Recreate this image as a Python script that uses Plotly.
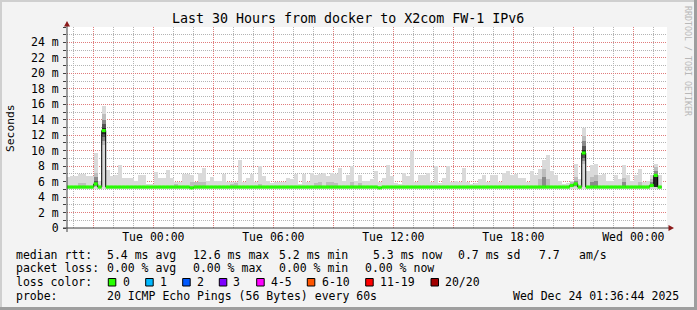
import plotly.graph_objects as go

# ---------------- data ----------------
# time axis: hours relative to Tue 00:00, bins of 12 minutes
bin_hours = 0.2
first_bin_start = -4.3817

# upper edge of the light smoke per bin (ms)
smoke_max = [
    6.6, 6.7, 6.7, 7.0, 7.0, 6.7, 6.7, 9.7, 6.1, 15.8,
    7.5, 6.7, 6.9, 8.1, 6.5, 6.5, 6.5, 6.1, 6.9, 6.9,
    5.7, 5.7, 7.3, 6.5, 6.5, 7.5, 6.5, 5.95, 5.95, 7.0,
    7.0, 6.8, 5.95, 7.1, 7.7, 6.1, 6.6,
    6.1, 6.1, 7.0, 5.95, 6.0, 5.9, 8.85, 5.95, 6.5, 7.0,
    5.95, 8.07, 6.7, 6.1, 5.8, 5.9, 5.9, 5.9, 6.5, 6.3,
    7.0, 5.7, 7.0, 5.95, 7.1, 6.9, 7.0, 7.1, 6.7, 7.1,
    7.0, 7.7, 6.1, 6.8, 8.07, 6.1, 6.8, 6.1,
    6.1, 6.35, 7.4, 5.95, 6.5, 8.2, 6.7, 5.8, 5.7, 7.1,
    6.7, 10.0, 5.95, 6.8, 6.8, 7.1, 5.95, 8.07, 5.8, 6.5,
    8.07, 5.95, 6.1, 5.95, 7.8, 5.95, 5.7, 5.8, 6.3, 6.8,
    5.95, 6.8, 6.8, 5.95, 7.1, 7.4, 6.8, 7.0,
    6.5, 6.5, 5.95, 7.4, 6.8, 7.6, 8.85, 9.5, 7.4, 6.8,
    6.1, 5.7, 5.8, 6.1, 8.3, 6.3, 12.9, 7.4, 8.2, 8.3,
    6.8, 7.0, 6.1, 6.1, 6.8, 6.3, 8.2, 6.9, 6.1, 6.8,
    7.6, 5.95, 6.1, 6.8, 8.3, 6.8,
]
smoke_min = 5.1

# median rtt per bin (ms)
median_rtt = [
    5.3, 5.3, 5.3, 5.3, 5.3, 5.3, 5.3, 5.7, 5.3, 12.6,
    5.3, 5.3, 5.3, 5.3, 5.3, 5.3, 5.3, 5.3, 5.3, 5.3,
    5.3, 5.3, 5.3, 5.3, 5.3, 5.3, 5.3, 5.3, 5.3, 5.3,
    5.3, 5.2, 5.3, 5.3, 5.3, 5.3, 5.3,
    5.3, 5.3, 5.3, 5.3, 5.3, 5.3, 5.3, 5.3, 5.3, 5.3,
    5.3, 5.3, 5.3, 5.3, 5.3, 5.3, 5.3, 5.3, 5.3, 5.3,
    5.3, 5.3, 5.3, 5.3, 5.3, 5.3, 5.3, 5.3, 5.3, 5.3,
    5.3, 5.3, 5.3, 5.3, 5.3, 5.3, 5.3, 5.3,
    5.3, 5.3, 5.3, 5.2, 5.3, 5.3, 5.3, 5.3, 5.3, 5.3,
    5.3, 5.3, 5.3, 5.3, 5.3, 5.3, 5.3, 5.3, 5.3, 5.3,
    5.3, 5.3, 5.3, 5.3, 5.3, 5.3, 5.3, 5.3, 5.3, 5.3,
    5.3, 5.3, 5.3, 5.3, 5.3, 5.3, 5.3, 5.3,
    5.3, 5.3, 5.3, 5.3, 5.3, 5.3, 5.3, 5.3, 5.3, 5.3,
    5.3, 5.3, 5.3, 5.5, 5.7, 5.3, 9.7, 5.3, 5.3, 5.3,
    5.3, 5.3, 5.3, 5.3, 5.3, 5.3, 5.3, 5.3, 5.3, 5.3,
    5.3, 5.3, 5.3, 5.5, 6.8, 5.3,
]

# denser smoke layers (sparse: bin index, lower ms, upper ms)
mid_bins = [3, 4, 7, 9, 27, 31, 32, 33, 34, 41, 42, 48, 62, 63, 65, 66, 67, 71, 73,
            118, 119, 120, 126, 127, 129, 131, 132, 139, 143, 146, 147]
mid_lo = [5.3, 5.3, 5.3, 10.8, 5.3, 5.3, 5.3, 5.3, 5.3, 5.3, 5.3, 5.3, 5.3, 5.3, 5.3, 5.3, 5.3, 5.3, 5.3,
          5.3, 5.3, 5.3, 5.3, 5.3, 8.3, 5.3, 5.3, 5.3, 5.3, 5.3, 5.3]
mid_hi = [5.8, 5.8, 7.1, 14.7, 5.7, 5.9, 5.9, 6.0, 6.0, 5.7, 5.8, 5.7, 5.8, 5.9, 6.0, 6.0, 5.8, 5.9, 5.8,
          6.4, 7.6, 6.4, 5.9, 6.6, 11.9, 6.6, 6.8, 6.5, 5.9, 6.3, 7.9]

dark_bins = [7, 9, 119, 127, 129, 131, 132, 139, 146, 147]
dark_lo = [5.4, 11.3, 5.3, 5.4, 8.7, 5.3, 5.3, 5.3, 5.3, 5.3]
dark_hi = [6.6, 14.0, 6.6, 6.1, 11.2, 6.0, 6.1, 5.9, 5.9, 7.4]

darker_bins = [7, 9, 129, 147]
darker_lo = [5.5, 11.8, 9.1, 5.3]
darker_hi = [6.1, 13.4, 10.6, 6.8]

darkest_bins = [9, 129, 147]
darkest_lo = [12.2, 9.4, 5.3]
darkest_hi = [12.9, 10.1, 6.6]

x_tick_hours = [-3, 0, 3, 6, 9, 12, 15, 18, 21, 24]
x_tick_text = ["", "Tue 00:00", "", "Tue 06:00", "", "Tue 12:00", "", "Tue 18:00", "", "Wed 00:00"]
y_tick_vals = [0, 2, 4, 6, 8, 10, 12, 14, 16, 18, 20, 22, 24]
y_tick_text = ["0", "2 m", "4 m", "6 m", "8 m", "10 m", "12 m", "14 m", "16 m", "18 m", "20 m", "22 m", "24 m"]

title_text = "Last 30 Hours from docker to X2com FW-1 IPv6"
legend_rows = [
    [("median rtt:", 16), ("5.4 ms avg", 107.3), ("12.6 ms max", 193.3), ("5.2 ms min", 279.3),
     ("5.3 ms now", 372.7), ("0.7 ms sd", 458.3), ("7.7", 539.3), ("am/s", 579.3)],
    [("packet loss:", 16), ("0.00 % avg", 107.3), ("0.00 % max", 193.3), ("0.00 % min", 279.3),
     ("0.00 % now", 365)],
    [("loss color:", 16)],
    [("probe:", 16), ("20 ICMP Echo Pings (56 Bytes) every 60s", 107.3),
     ("Wed Dec 24 01:36:44 2025", 513.3)],
]
legend_row_y = [255, 268.3, 282.3, 295.7]
loss_labels = ["0", "1", "2", "3", "4-5", "6-10", "11-19", "20/20"]
loss_colors = ["#26ff00", "#00b8ff", "#0059ff", "#7e00ff", "#ff00ff", "#ff5500", "#ff0000", "#a10000"]
loss_box_x = [108.3, 145.7, 182.7, 219.3, 256.7, 307.3, 365.7, 431]
loss_label_x = [123.3, 160.3, 196.7, 233.3, 270.7, 321.7, 380, 445]

# ---------------- geometry ----------------
W, H = 697, 310
L, R, T, B = 67, 30, 27, 82
PW, PH = W - L - R, H - T - B
X0 = -4.317
X1 = X0 + 30
Y1 = 26.0


def px(x):
    return (x - L) / PW


def py(y):
    return (T + PH - y) / PH


FONT = "DejaVu Sans Mono"
MAJOR_GRID = "#e07c7c"
MINOR_GRID = "#b4b4b4"

n = len(smoke_max)
bin_start = [first_bin_start + bin_hours * k for k in range(n)]
bin_center = [s + bin_hours / 2 for s in bin_start]

fig = go.Figure()


def add_layer(idx, lo, hi, color):
    fig.add_trace(go.Bar(
        x=[bin_center[i] for i in idx],
        base=lo,
        y=[h - l for l, h in zip(lo, hi)],
        width=bin_hours,
        marker=dict(color=color, line=dict(width=0)),
        hoverinfo="skip", showlegend=False,
    ))


add_layer(list(range(n)), [smoke_min] * n, smoke_max, "#dadada")
add_layer(mid_bins, mid_lo, mid_hi, "#bdbdbd")
add_layer(dark_bins, dark_lo, dark_hi, "#8a8a8a")
add_layer(darker_bins, darker_lo, darker_hi, "#555555")
add_layer(darkest_bins, darkest_lo, darkest_hi, "#262626")

# black median step line
step_x = bin_start + [bin_start[-1] + bin_hours]
step_y = median_rtt + [median_rtt[-1]]
fig.add_trace(go.Scatter(x=step_x, y=step_y, mode="lines", line=dict(shape="hv", color="#000000", width=1),
                         hoverinfo="skip", showlegend=False))

# green (0 loss) median segments
gx, gy = [], []
for s, m in zip(bin_start, median_rtt):
    gx += [s, s + bin_hours, None]
    gy += [m, m, None]
fig.add_trace(go.Scatter(x=gx, y=gy, mode="lines", line=dict(color=loss_colors[0], width=3.2),
                         hoverinfo="skip", showlegend=False))

shapes = []
# axes lines
shapes.append(dict(type="line", xref="paper", yref="paper", x0=px(67), x1=px(67), y0=py(232), y1=py(25),
                   line=dict(color="#404040", width=1)))
shapes.append(dict(type="line", xref="paper", yref="paper", x0=px(63), x1=px(670), y0=py(228), y1=py(228),
                   line=dict(color="#404040", width=1)))
# arrows
shapes.append(dict(type="path", xref="paper", yref="paper",
                   path=f"M {px(64)},{py(26.5)} L {px(70)},{py(26.5)} L {px(67)},{py(21)} Z",
                   fillcolor="#8b1a1a", line=dict(width=0)))
shapes.append(dict(type="path", xref="paper", yref="paper",
                   path=f"M {px(668.5)},{py(225)} L {px(668.5)},{py(231)} L {px(674)},{py(228)} Z",
                   fillcolor="#8b1a1a", line=dict(width=0)))
# image border (rrdtool shade)
shapes.append(dict(type="rect", xref="paper", yref="paper", x0=px(0), x1=px(697), y0=py(0), y1=py(2),
                   fillcolor="#cfcfcf", line=dict(width=0)))
shapes.append(dict(type="rect", xref="paper", yref="paper", x0=px(0), x1=px(2), y0=py(0), y1=py(310),
                   fillcolor="#cfcfcf", line=dict(width=0)))
shapes.append(dict(type="rect", xref="paper", yref="paper", x0=px(694), x1=px(697), y0=py(0), y1=py(310),
                   fillcolor="#9e9e9e", line=dict(width=0)))
shapes.append(dict(type="rect", xref="paper", yref="paper", x0=px(0), x1=px(697), y0=py(307), y1=py(310),
                   fillcolor="#9e9e9e", line=dict(width=0)))
# loss color boxes
for bx, col in zip(loss_box_x, loss_colors):
    shapes.append(dict(type="rect", xref="paper", yref="paper", x0=px(bx), x1=px(bx + 7.5),
                       y0=py(278.5 + 7.5), y1=py(278.5), fillcolor=col, line=dict(color="#000000", width=1)))

annotations = []
annotations.append(dict(text=title_text, x=px(348), y=py(19), xref="paper", yref="paper",
                        xanchor="center", yanchor="middle", showarrow=False,
                        font=dict(family=FONT, size=13.3, color="#000000")))
annotations.append(dict(text="Seconds", x=px(10.5), y=py(128.5), xref="paper", yref="paper",
                        xanchor="center", yanchor="middle", showarrow=False, textangle=-90,
                        font=dict(family=FONT, size=11.3, color="#000000")))
annotations.append(dict(text="RRDTOOL / TOBI OETIKER", x=px(688), y=py(61), xref="paper", yref="paper",
                        xanchor="center", yanchor="middle", showarrow=False, textangle=90,
                        font=dict(family=FONT, size=8.3, color="#b8b8b8")))
for row, yy in zip(legend_rows, legend_row_y):
    for txt, xx in row:
        annotations.append(dict(text=txt, x=px(xx - 2), y=py(yy), xref="paper", yref="paper",
                                xanchor="left", yanchor="middle", showarrow=False,
                                font=dict(family=FONT, size=11.5, color="#000000")))
for txt, xx in zip(loss_labels, loss_label_x):
    annotations.append(dict(text=txt, x=px(xx - 2), y=py(legend_row_y[2]), xref="paper", yref="paper",
                            xanchor="left", yanchor="middle", showarrow=False,
                            font=dict(family=FONT, size=11.5, color="#000000")))

fig.update_layout(
    width=W, height=H,
    margin=dict(l=L, r=R, t=T, b=B, pad=0),
    paper_bgcolor="#f3f3f3", plot_bgcolor="#ffffff",
    barmode="overlay", bargap=0,
    showlegend=False,
    shapes=shapes, annotations=annotations,
    xaxis=dict(range=[X0, X1], tickmode="array", tickvals=x_tick_hours, ticktext=x_tick_text,
               showgrid=True, gridcolor=MAJOR_GRID, griddash="1px,1px", gridwidth=1,
               minor=dict(tickmode="linear", tick0=0, dtick=1, showgrid=True, gridcolor=MINOR_GRID,
                          griddash="1px,1px", gridwidth=1),
               zeroline=False, showline=False, ticks="",
               tickfont=dict(family=FONT, size=11.5, color="#000000"), fixedrange=True),
    yaxis=dict(range=[0, Y1], tickmode="array", tickvals=y_tick_vals, ticktext=y_tick_text,
               showgrid=True, gridcolor=MAJOR_GRID, griddash="1px,1px", gridwidth=1,
               minor=dict(tickmode="linear", tick0=0, dtick=1, showgrid=True, gridcolor=MINOR_GRID,
                          griddash="1px,1px", gridwidth=1, ticks="outside", ticklen=3, tickcolor="#404040"),
               zeroline=False, showline=False, ticks="outside", ticklen=3, tickcolor="#404040",
               ticklabelstandoff=2,
               tickfont=dict(family=FONT, size=11.5, color="#000000"), fixedrange=True),
)

fig.write_html("out.html")
